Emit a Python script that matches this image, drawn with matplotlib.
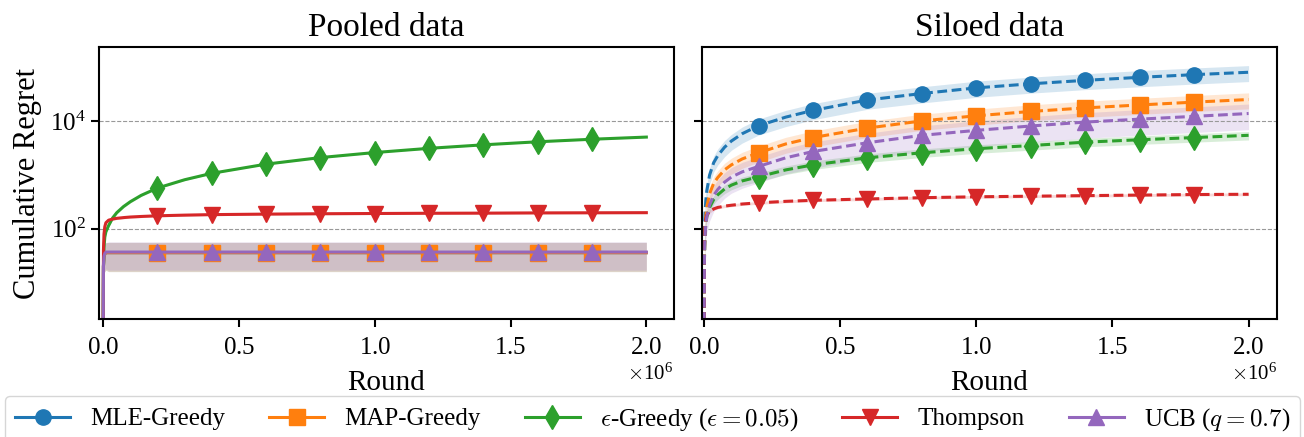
import matplotlib
matplotlib.use("Agg")
import matplotlib.pyplot as plt
import numpy as np

plt.rcParams['font.family'] = ['Liberation Serif', 'DejaVu Serif']
plt.rcParams['mathtext.fontset'] = 'cm'

# rounds (x 1e6)
rounds = [0, 0.001, 0.003, 0.006, 0.01, 0.02, 0.035, 0.05, 0.075, 0.1, 0.14,
          0.2, 0.3, 0.4, 0.6, 0.8, 1.0, 1.2, 1.4, 1.6, 1.8, 2.0]
mark_idx = [11, 13, 14, 15, 16, 17, 18, 19, 20]

labels = ["MLE-Greedy", "MAP-Greedy", r"$\epsilon$-Greedy ($\epsilon = 0.05$)",
          "Thompson", r"UCB ($q = 0.7$)"]
colors = ["#1f77b4", "#ff7f0e", "#2ca02c", "#d62728", "#9467bd"]
markers = ["o", "s", "d", "v", "^"]

# pooled data: mean and std of cumulative regret
pooled_mle = [1, 20, 30, 34, 36, 36, 36, 36, 36, 36, 36, 36, 36, 36, 36, 36, 36, 36, 36, 36, 36, 36]
pooled_map = [1, 20, 30, 34, 36, 36, 36, 36, 36, 36, 36, 36, 36, 36, 36, 36, 36, 36, 36, 36, 36, 36]
pooled_eps = [1, 20, 45, 70, 88, 115, 160, 200, 260, 320, 420, 575, 820, 1080, 1600, 2120,
              2630, 3150, 3660, 4170, 4650, 5100]
pooled_ts = [1, 40, 80, 110, 130, 145, 152, 157, 162, 166, 170, 175, 180, 184, 188, 191,
             193, 195, 196, 198, 199, 200]
pooled_ucb = [1, 21, 31, 35, 37, 37, 37, 37, 37, 37, 37, 37, 37, 37, 37, 37, 37, 37, 37, 37, 37, 37]

pooled_mle_sd = [0, 10, 15, 18, 19, 20, 20, 20, 20, 20, 20, 20, 20, 20, 20, 20, 20, 20, 20, 20, 20, 20]
pooled_map_sd = [0, 10, 15, 18, 19, 20, 20, 20, 20, 20, 20, 20, 20, 20, 20, 20, 20, 20, 20, 20, 20, 20]
pooled_eps_sd = [0, 2, 4, 5, 6, 8, 10, 12, 14, 16, 18, 20, 25, 30, 40, 50, 60, 70, 80, 90, 100, 110]
pooled_ts_sd = [0, 3, 5, 6, 7, 7, 7, 8, 8, 8, 8, 8, 8, 8, 8, 8, 8, 8, 8, 8, 8, 8]
pooled_ucb_sd = [0, 10, 15, 18, 19, 20, 20, 20, 20, 20, 20, 20, 20, 20, 20, 20, 20, 20, 20, 20, 20, 20]

# siloed data
siloed_mle = [1, 60, 180, 330, 520, 1000, 1700, 2300, 3300, 4300, 5900, 8300, 12000, 16000,
              25000, 33000, 42000, 50000, 58000, 66000, 74000, 82000]
siloed_map = [1, 30, 90, 170, 260, 450, 700, 900, 1250, 1550, 2000, 2600, 3800, 5000, 7500,
              10200, 12700, 15300, 17800, 20200, 22800, 25500]
siloed_eps = [1, 25, 70, 120, 170, 250, 350, 430, 550, 650, 780, 930, 1250, 1550, 2100, 2600,
              3100, 3550, 4100, 4550, 5000, 5500]
siloed_ts = [1, 40, 100, 150, 180, 210, 235, 250, 265, 275, 290, 305, 325, 340, 360, 380,
             395, 405, 415, 425, 435, 440]
siloed_ucb = [1, 25, 70, 120, 170, 280, 420, 540, 740, 920, 1150, 1450, 2100, 2750, 4000,
              5500, 6800, 8200, 9700, 11000, 12400, 14000]

siloed_mle_sd = [0, 20, 60, 110, 170, 330, 560, 760, 1100, 1400, 1950, 2750, 4000, 5300,
                 8200, 11000, 14000, 16500, 19000, 22000, 24500, 27000]
siloed_map_sd = [0, 10, 30, 55, 85, 150, 230, 300, 410, 510, 660, 860, 1250, 1650, 2500,
                 3400, 4200, 5000, 5900, 6700, 7500, 8400]
siloed_eps_sd = [0, 4, 12, 20, 30, 45, 63, 77, 100, 117, 140, 170, 225, 280, 380, 470, 560,
                 640, 740, 820, 900, 990]
siloed_ts_sd = [0, 2, 6, 9, 11, 13, 14, 15, 16, 17, 17, 18, 20, 20, 22, 23, 24, 24, 25, 26, 26, 26]
siloed_ucb_sd = [0, 12, 35, 60, 85, 140, 210, 270, 370, 460, 580, 730, 1050, 1400, 2000,
                 2750, 3400, 4100, 4850, 5500, 6200, 7000]

pooled = [pooled_mle, pooled_map, pooled_eps, pooled_ts, pooled_ucb]
pooled_sd = [pooled_mle_sd, pooled_map_sd, pooled_eps_sd, pooled_ts_sd, pooled_ucb_sd]
siloed = [siloed_mle, siloed_map, siloed_eps, siloed_ts, siloed_ucb]
siloed_sd = [siloed_mle_sd, siloed_map_sd, siloed_eps_sd, siloed_ts_sd, siloed_ucb_sd]

x = np.array(rounds) * 1e6

fig, axes = plt.subplots(1, 2, figsize=(13.04, 4.37), dpi=100, sharey=True)
fig.subplots_adjust(left=0.076, right=0.979, bottom=0.27, top=0.892, wspace=0.05)

panels = [(axes[0], pooled, pooled_sd, "-", "Pooled data", (-0.015e6, 2.1e6)),
          (axes[1], siloed, siloed_sd, "--", "Siloed data", (-0.007e6, 2.103e6))]

for ax, means, sds, ls, title, xl in panels:
    for i in range(5):
        m = np.array(means[i], dtype=float)
        s = np.array(sds[i], dtype=float)
        ax.fill_between(x[1:], (m - s)[1:], (m + s)[1:], color=colors[i], alpha=0.18, lw=0)
        line, = ax.plot(x, m, ls=ls, color=colors[i], lw=2.2, marker=markers[i],
                        markevery=mark_idx, ms=12 if markers[i] == "d" else 11,
                        label=labels[i])
        if ls == "--":
            line.set_dashes((3.2, 1.5))
    ax.set_yscale("log")
    ax.set_ylim(2.1, 2.4e5)
    ax.set_xlim(*xl)
    ax.set_yticks([1e2, 1e4])
    ax.yaxis.set_minor_locator(matplotlib.ticker.NullLocator())
    ax.set_xticks([0, 0.5e6, 1.0e6, 1.5e6, 2.0e6])
    ax.ticklabel_format(axis="x", style="sci", scilimits=(0, 0), useMathText=True)
    ax.xaxis.get_offset_text().set_fontsize(15)
    ax.grid(axis="y", ls="--", color="0.6", lw=0.8)
    ax.tick_params(labelsize=18, width=1.5, length=6)
    ax.tick_params(axis="x", pad=7)
    for sp in ax.spines.values():
        sp.set_linewidth(1.5)
    ax.set_title(title, fontsize=24, pad=8)
    ax.set_xlabel("Round", fontsize=21, labelpad=8)

axes[0].set_ylabel("Cumulative Regret", fontsize=22, labelpad=6)

handles, labs = axes[0].get_legend_handles_labels()
fig.legend(handles, labs, loc="upper left", bbox_to_anchor=(0.004, 0.0, 0.993, 0.094),
           mode="expand", ncol=5, fontsize=18, handlelength=2.2, borderaxespad=0,
           edgecolor="0.8")

fig.savefig("out.png", dpi=100)
